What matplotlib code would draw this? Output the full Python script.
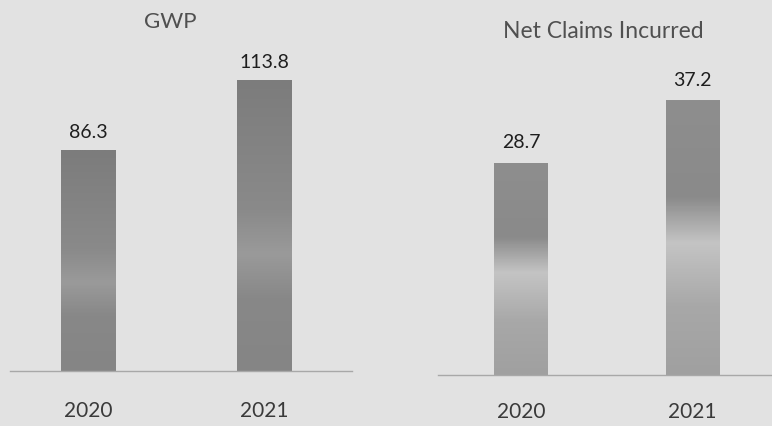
import numpy as np
import matplotlib
matplotlib.use("Agg")
import matplotlib.pyplot as plt
from matplotlib.colors import LinearSegmentedColormap

years = ["2020", "2021"]
gwp = [86.3, 113.8]
claims = [28.7, 37.2]
titles = ["GWP", "Net Claims Incurred"]

W, H = 772, 427
fig = plt.figure(figsize=(W / 100, H / 100), dpi=100)
fig.patch.set_facecolor("#e2e2e2")
plt.rcParams["font.family"] = ["Lato", "DejaVu Sans"]

def add_axes(x0, x1, base_y):
    return fig.add_axes([x0 / W, (H - base_y) / H, (x1 - x0) / W, base_y / H])

cm_left = LinearSegmentedColormap.from_list(
    "l", [(0, "#7c7c7c"), (0.45, "#8a8a8a"), (0.6, "#9a9a9a"), (0.75, "#888888"), (1, "#858585")])
cm_right = LinearSegmentedColormap.from_list(
    "r", [(0, "#8e8e8e"), (0.35, "#8a8a8a"), (0.52, "#c4c4c4"), (0.75, "#a8a8a8"), (1, "#a0a0a0")])

def panel(ax, vals, title, xlim, ymax, cmap, title_xy, label_pad, tick_pad, title_size):
    ax.set_facecolor("none")
    x = np.arange(len(vals))
    bars = ax.bar(x, vals, width=0.31, color="none", edgecolor="none")
    grad = np.linspace(1, 0, 200).reshape(-1, 1)
    for b in bars:
        bx, by, bw, bh = b.get_x(), b.get_y(), b.get_width(), b.get_height()
        im = ax.imshow(grad, cmap=cmap, vmin=0, vmax=1, aspect="auto",
                       extent=[bx, bx + bw, by, by + bh], origin="lower", zorder=2)
        im.set_clip_path(b)
    ax.set_xlim(*xlim)
    ax.set_ylim(0, ymax)
    for xi, v in zip(x, vals):
        ax.annotate(f"{v}", (xi, v), xytext=(0, label_pad), textcoords="offset points",
                    ha="center", va="bottom", fontsize=14, color="#1e1e1e")
    ax.set_xticks(x)
    ax.set_xticklabels(years, fontsize=15, color="#3a3a3a")
    ax.tick_params(axis="x", length=0, pad=tick_pad)
    ax.set_yticks([])
    for s in ["top", "right", "left"]:
        ax.spines[s].set_visible(False)
    ax.spines["bottom"].set_color("#a8a8a8")
    ax.spines["bottom"].set_linewidth(1.0)
    ax.text(title_xy[0], title_xy[1], title, transform=ax.transAxes, ha="center", va="center",
            fontsize=title_size, color="#505050")

ax1 = add_axes(10, 352, 372)
panel(ax1, gwp, titles[0], (-0.446, 1.497), 372 / 2.56, cm_left,
      ((170 - 10) / 342, 1 - 22 / 372), 7, 21, 16)

ax2 = add_axes(438, 772, 376)
panel(ax2, claims, titles[1], (-0.484, 1.464), 376 / 7.39, cm_right,
      ((603 - 438) / 334, 1 - 32 / 376), 9, 18.5, 16.5)

fig.savefig("out.png", dpi=100, facecolor=fig.get_facecolor())
